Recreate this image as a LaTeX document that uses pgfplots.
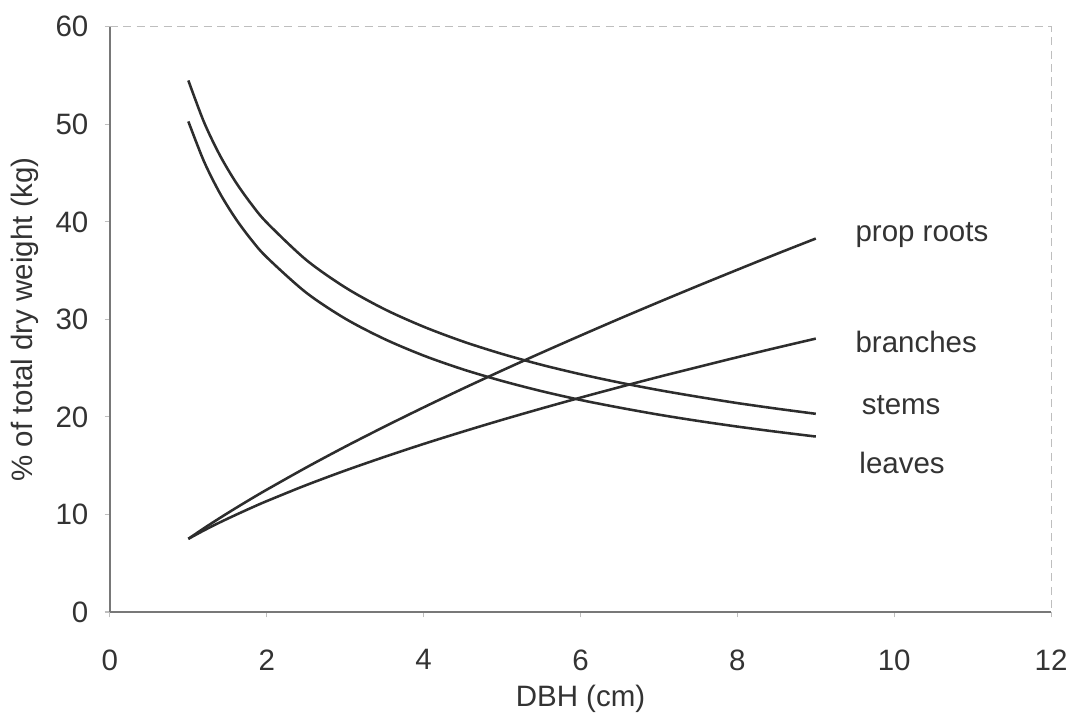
\documentclass[border=0pt]{standalone}
\usepackage{pgfplots}
\pgfplotsset{compat=1.18}
\usepackage{fontspec}
\setmainfont{Liberation Sans}
\definecolor{curve}{RGB}{45,45,45}
\definecolor{axgray}{RGB}{120,120,120}
\definecolor{lightgray}{RGB}{190,190,190}
\begin{document}
\begin{tikzpicture}
\useasboundingbox (-41pt,-39.6pt) rectangle (358.9pt,228.3pt);
\begin{axis}[
  at={(0,0)}, anchor=origin,
  scale only axis, width=351.1pt, height=218.3pt,
  xmin=0, xmax=12, ymin=0, ymax=60,
  xtick={0,2,...,12}, ytick={0,10,...,60},
  axis lines*=left,
  axis line style={-, draw=axgray, line width=0.5pt},
  tick align=outside, major tick length=2pt,
  tick style={draw=lightgray, line width=0.4pt},
  /pgf/number format/assume math mode=true,
  tick label style={font=\fontsize{11}{13}\selectfont, text=black!80},
  xticklabel style={yshift=-8.5pt},
  yticklabel style={xshift=-2.5pt},
  clip=false,
]
\draw[lightgray, densely dashed, line width=0.4pt] (rel axis cs:0,1) -- (rel axis cs:1,1) -- (rel axis cs:1,0);
% stems
\addplot[curve, line width=0.95pt, smooth] coordinates {
(1,54.5) (1.2,50.22) (1.4,46.86) (1.6,44.13) (1.8,41.86) (2,39.93) (2.5,36.12) (3,33.28) (3.5,31.05) (4,29.25) (4.5,27.74) (5,26.46) (5.5,25.35) (6,24.38) (6.5,23.52) (7,22.75) (7.5,22.06) (8,21.42) (8.5,20.85) (9,20.32)};
% leaves
\addplot[curve, line width=0.95pt, smooth] coordinates {
(1,50.3) (1.2,46.19) (1.4,42.97) (1.6,40.37) (1.8,38.20) (2,36.37) (2.5,32.76) (3,30.08) (3.5,27.99) (4,26.29) (4.5,24.88) (5,23.69) (5.5,22.65) (6,21.74) (6.5,20.95) (7,20.23) (7.5,19.59) (8,19.01) (8.5,18.48) (9,17.99)};
% prop roots
\addplot[curve, line width=0.95pt, smooth] coordinates {
(1,7.5) (1.2,8.59) (1.4,9.63) (1.6,10.63) (1.8,11.60) (2,12.54) (2.5,14.80) (3,16.95) (3.5,19.00) (4,20.98) (4.5,22.90) (5,24.76) (5.5,26.57) (6,28.34) (6.5,30.08) (7,31.78) (7.5,33.45) (8,35.09) (8.5,36.71) (9,38.29)};
% branches
\addplot[curve, line width=0.95pt, smooth] coordinates {
(1,7.5) (1.2,8.37) (1.4,9.18) (1.6,9.94) (1.8,10.67) (2,11.37) (2.5,13.00) (3,14.50) (3.5,15.90) (4,17.23) (4.5,18.49) (5,19.70) (5.5,20.86) (6,21.98) (6.5,23.06) (7,24.11) (7.5,25.12) (8,26.12) (8.5,27.09) (9,28.03)};
\node[anchor=west, font=\fontsize{11}{13}\selectfont, text=black!80, inner sep=0pt] at (axis cs:9.5,38.6) {prop roots};
\node[anchor=west, font=\fontsize{11}{13}\selectfont, text=black!80, inner sep=0pt] at (axis cs:9.5,27.7) {branches};
\node[anchor=west, font=\fontsize{11}{13}\selectfont, text=black!80, inner sep=0pt] at (axis cs:9.58,21.2) {stems};
\node[anchor=west, font=\fontsize{11}{13}\selectfont, text=black!80, inner sep=0pt] at (axis cs:9.55,15.3) {leaves};
\node[font=\fontsize{11}{13}\selectfont, text=black!80, anchor=center] at ([yshift=-32.3pt]rel axis cs:0.5,0) {DBH (cm)};
\node[font=\fontsize{11}{13}\selectfont, text=black!80, anchor=center, rotate=90] at ([xshift=-31.7pt]rel axis cs:0,0.5) {\% of total dry weight (kg)};
\end{axis}
\end{tikzpicture}
\end{document}
